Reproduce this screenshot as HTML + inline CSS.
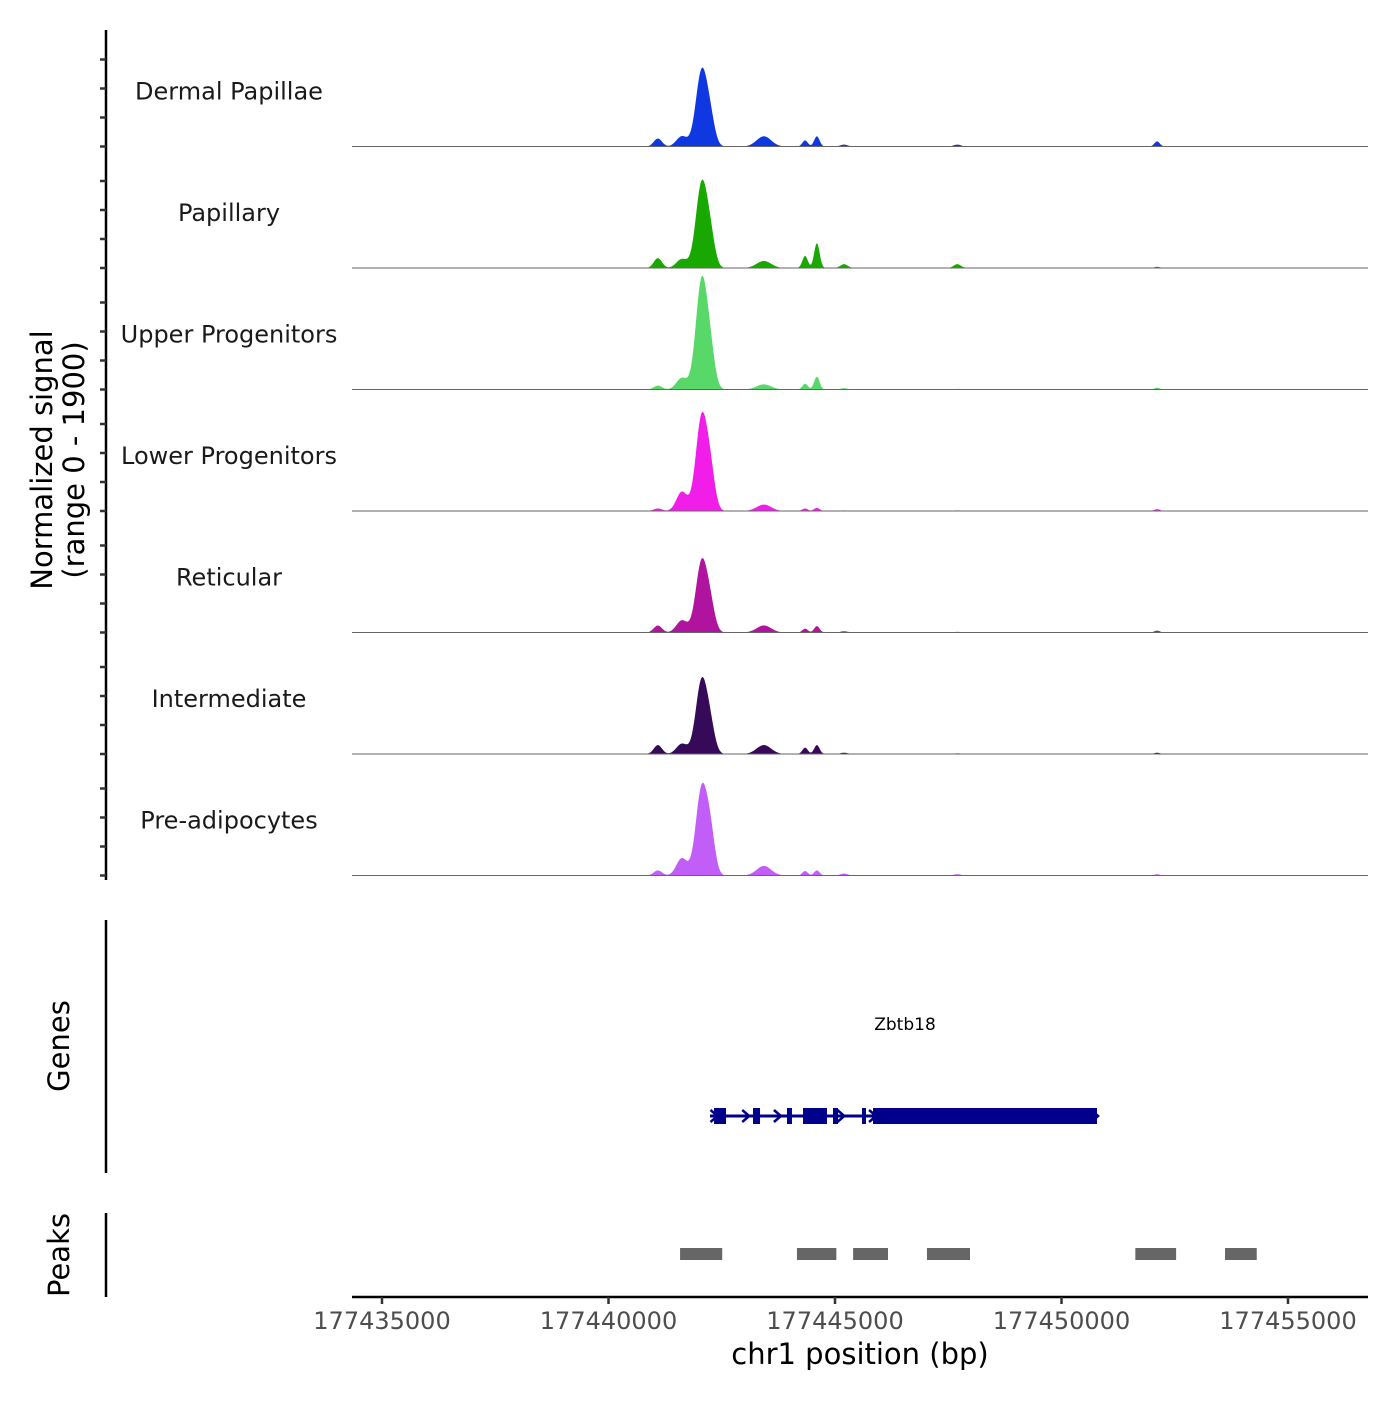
<!DOCTYPE html>
<html><head><meta charset="utf-8"><style>
body{margin:0;background:#fff}
svg{font-family:"DejaVu Sans","Liberation Sans",sans-serif}
</style></head><body>
<svg id="chart" width="1400" height="1400" viewBox="0 0 1400 1400">
<g id="tracks"></g>
<g id="axes"></g>
<g id="genes"></g>
<g id="peaks"></g>
</svg>
<script>
const trackNames=["Dermal Papillae","Papillary","Upper Progenitors","Lower Progenitors","Reticular","Intermediate","Pre-adipocytes"];
const trackColors=["#1038e0","#19a800","#58d868","#f01ee8","#b0149e","#360a58","#c25ef8"];
const bumpCenters=[177441090,177441620,177442060,177442260,177443430,177444340,177444600,177445200,177447700,177452110];
const bumpWidths=[90,120,130,100,160,60,60,80,80,60];
const sigDP=[125,160,1190,300,160,95,160,30,30,80];
const sigPap=[155,140,1330,350,110,190,390,60,60,20];
const sigUpper=[60,180,1720,400,80,90,200,20,10,30];
const sigLower=[40,300,1480,450,100,40,50,10,10,30];
const sigRet=[110,190,1120,300,110,60,100,20,10,30];
const sigInter=[140,160,1160,300,140,100,140,20,10,20];
const sigPre=[80,270,1370,500,150,70,80,30,20,20];
const signals=[sigDP,sigPap,sigUpper,sigLower,sigRet,sigInter,sigPre];
const xTicks=[177435000,177440000,177445000,177450000,177455000];
const peakStarts=[177441580,177444160,177445400,177447030,177451630,177453610];
const peakEnds=[177442510,177445030,177446170,177447980,177452530,177454310];
const exonStarts=[177442330,177443190,177443940,177444294,177444956,177445596,177445839];
const exonEnds=[177442594,177443345,177444050,177444823,177445066,177445684,177450784];
const geneStart=177442240, geneEnd=177450784;

const NS="http://www.w3.org/2000/svg";
const x0=382,bp0=177435000,pxPerBp=45.3/1000;
const X=bp=>x0+(bp-bp0)*pxPerBp;
const trackTop=25,trackH=121.5,yMax=1900;
const Y=(i,v)=>trackTop+(i+1)*trackH - v/yMax*trackH;
function mk(tag,attrs,parent,text){const e=document.createElementNS(NS,tag);for(const k in attrs)e.setAttribute(k,attrs[k]);if(text!==undefined)e.textContent=text;parent.appendChild(e);return e;}
const tracks=document.getElementById('tracks');
signals.forEach((sig,i)=>{
  const base=Y(i,0);
  let d=`M352,${base}`;
  for(let px=352;px<=1368;px+=1){
    const bp=bp0+(px-x0)/pxPerBp;
    let v=0;
    sig.forEach((h,k)=>{const z=(bp-bumpCenters[k])/bumpWidths[k];v+=h*Math.exp(-0.5*z*z);});
    d+=`L${px},${Y(i,v).toFixed(2)}`;
  }
  d+=`L1368,${base}Z`;
  const p=mk('path',{d:d,fill:trackColors[i]},tracks);
  
  
  const bl=mk('line',{x1:352,x2:1368,y1:base,y2:base,stroke:'#666','stroke-width':1},tracks);
  
  
  const t=mk('text',{x:229,y:base-47,'text-anchor':'middle','font-size':24,fill:'#1a1a1a'},tracks,trackNames[i]);
  
  
});
const axes=document.getElementById('axes');
mk('line',{x1:106,x2:106,y1:30,y2:880,stroke:'#000','stroke-width':2.5},axes);
for(let i=0;i<7;i++){const b=Y(i,0);[0,29,58,87].forEach(o=>mk('line',{x1:100,x2:106,y1:b-o,y2:b-o,stroke:'#333','stroke-width':2.5},axes));}
const yt=mk('text',{transform:'translate(52,460) rotate(-90)','text-anchor':'middle','font-size':29,fill:'#000'},axes);


mk('tspan',{x:0,dy:0},yt,'Normalized signal');
mk('tspan',{x:0,dy:32},yt,'(range 0 - 1900)');
mk('line',{x1:106,x2:106,y1:920,y2:1173,stroke:'#000','stroke-width':2.5},axes);
mk('text',{transform:'translate(69,1046) rotate(-90)','text-anchor':'middle','font-size':29},axes,'Genes');
mk('line',{x1:106,x2:106,y1:1213,y2:1297,stroke:'#000','stroke-width':2.5},axes);
mk('text',{transform:'translate(69,1255) rotate(-90)','text-anchor':'middle','font-size':29},axes,'Peaks');
mk('line',{x1:352,x2:1368,y1:1297,y2:1297,stroke:'#000','stroke-width':2.5},axes);
xTicks.forEach(v=>{
  mk('line',{x1:X(v),x2:X(v),y1:1297,y2:1304,stroke:'#333','stroke-width':2.5},axes);
  const t=mk('text',{x:X(v),y:1329,'text-anchor':'middle','font-size':24,fill:'#4d4d4d'},axes,String(v));
  
  
});
const xt=mk('text',{x:860,y:1364,'text-anchor':'middle','font-size':29},axes,'chr1 position (bp)');


const genes=document.getElementById('genes');
const gy=1116;
mk('line',{x1:X(geneStart),x2:X(geneEnd),y1:gy,y2:gy,stroke:'#00008b','stroke-width':3},genes);
for(let bp=geneStart+100;bp<geneEnd;bp+=700){const x=X(bp);mk('path',{d:`M${x-4},${gy-6}L${x+3},${gy}L${x-4},${gy+6}`,stroke:'#00008b','stroke-width':2.5,fill:'none'},genes);}
exonStarts.forEach((s,k)=>{const h=16;const r=mk('rect',{x:X(s),y:gy-h/2,width:Math.max(3,X(exonEnds[k])-X(s)),height:h,fill:'#00008b'},genes);
  
  });
const gl=mk('text',{x:905,y:1030,'text-anchor':'middle','font-size':17},genes,'Zbtb18');


const peaks=document.getElementById('peaks');
peakStarts.forEach((s,k)=>{const r=mk('rect',{x:X(s),y:1248,width:X(peakEnds[k])-X(s),height:12,fill:'#666'},peaks);
  
  });
</script>
</body></html>
